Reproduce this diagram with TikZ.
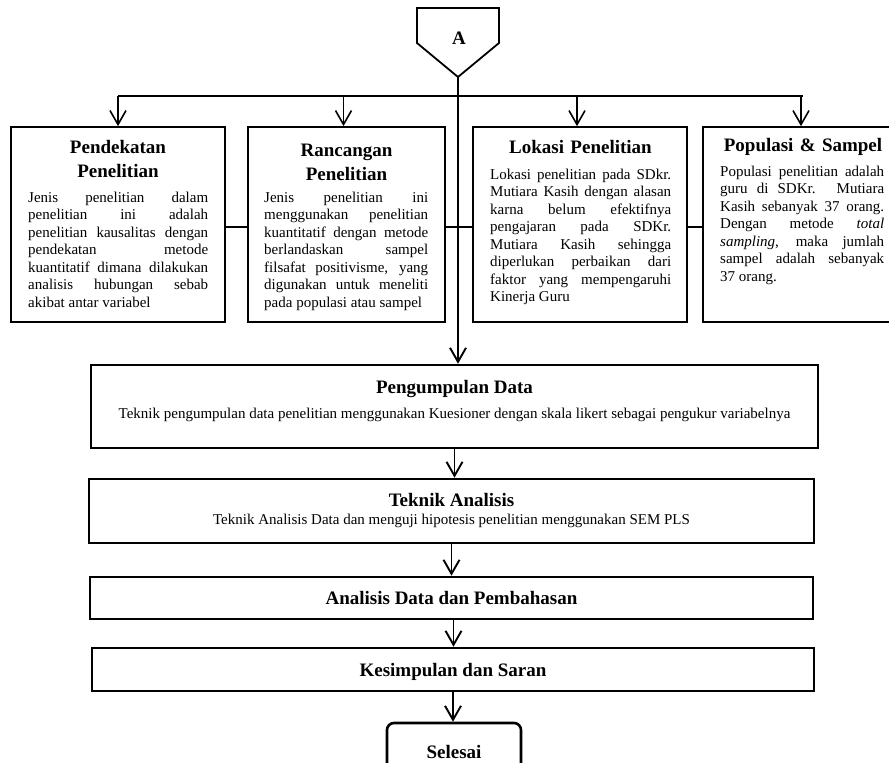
\documentclass[tikz,border=0pt]{standalone}
\usepackage{fontspec}
\setmainfont{Liberation Serif}
\usetikzlibrary{arrows.meta,calc}
\begin{document}
\begin{tikzpicture}[x=1pt,y=-1pt,
  bx/.style={draw, line width=1.7pt, fill=white, inner sep=0pt},
  bxb/.style={draw, line width=2.6pt, fill=white, inner sep=0pt},
  ttl/.style={inner sep=0pt, align=center, font=\fontsize{19}{24}\selectfont\bfseries},
  bod/.style={inner sep=0pt, align=justify, font=\fontsize{15}{17.5}\selectfont},
  lbl/.style={inner sep=0pt, font=\fontsize{15}{17.5}\selectfont},
  ln/.style={line width=1.6pt},
  arr/.style={line width=1.6pt, -{Straight Barb[length=14pt,width=16pt]}},
]
\useasboundingbox (0,0) rectangle (889,763);
\clip (0,0) rectangle (889,763);

% connector A
\draw[line width=1.8pt, fill=white, line join=miter] (417,8) -- (499,8) -- (499,43) -- (458,77) -- (417,43) -- cycle;
\draw[line width=2.8pt] (416,8) -- (500,8);
\node[ttl, anchor=base] (A) at (459,44) {A};
\coordinate (Atip) at (458,77);
\coordinate (hb) at (458,96);

% top boxes
\node[bx, minimum width=214pt, minimum height=195pt] (b1) at (118,224.5) {};
\node[bx, minimum width=197pt, minimum height=195pt] (b2) at (346.5,224.5) {};
\node[bx, minimum width=214pt, minimum height=195pt] (b3) at (580,224.5) {};
\node[bx, minimum width=200pt, minimum height=195pt] (b4) at (803,224.5) {};

% lower boxes
\node[bxb, minimum width=727pt, minimum height=83pt] (peng) at (454.5,406.5) {};
\node[bxb, minimum width=725pt, minimum height=64pt] (tek) at (451.5,511) {};
\node[bxb, minimum width=723pt, minimum height=42pt] (anl) at (451.5,598) {};
\node[bxb, minimum width=722pt, minimum height=43pt] (kes) at (453,669.5) {};
\node[bxb, rounded corners=7pt, minimum width=134pt, minimum height=58pt] (sel) at (454,752) {};

% connectors (behind text, over lines)
\begin{scope}[on background layer/.try]
\end{scope}
\draw[ln] (b1.east |- 0,227) -- (b2.west |- 0,227);
\draw[ln] (b2.east |- 0,227) -- (b3.west |- 0,227);
\draw[ln] (b3.east |- 0,227) -- (b4.west |- 0,227);
\draw[arr, line width=1.9pt] (Atip) -- (Atip |- peng.north);
\draw[ln] (b1.north |- hb) -- (b4.north |- hb);
\draw[arr] (b1.north |- hb) -- (b1.north);
\draw[arr] ($(b2.north |- hb)+(-3,0)$) -- ($(b2.north)+(-3,0)$);
\draw[arr] ($(b3.north |- hb)+(-3,0)$) -- ($(b3.north)+(-3,0)$);
\draw[arr] ($(b4.north |- hb)+(-2,0)$) -- ($(b4.north)+(-2,0)$);
\draw[arr, line width=1.9pt] (peng.south) -- (peng.south |- tek.north);
\draw[arr, line width=1.9pt] (tek.south) -- (tek.south |- anl.north);
\draw[arr, line width=1.9pt] ($(anl.south)+(2,0)$) -- ($(anl.south |- kes.north)+(2,0)$);
\draw[arr, line width=1.9pt] (kes.south) -- (kes.south |- sel.north);

% top box texts
\node[ttl, text width=200pt, anchor=north] (t1) at (118,136.2) {\strut Pendekatan\\ Penelitian};
\node[bod, text width=180pt, anchor=north west] (d1) at (28,189.75) {\strut Jenis penelitian dalam\linebreak penelitian ini adalah\linebreak penelitian kausalitas dengan\linebreak pendekatan metode\linebreak kuantitatif dimana dilakukan\linebreak analisis hubungan sebab\linebreak akibat antar variabel};

\node[ttl, text width=190pt, anchor=north] (t2) at (346.5,139.2) {\strut Rancangan\\ Penelitian};
\node[bod, text width=164pt, anchor=north west] (d2) at (264,189.75) {\strut Jenis penelitian ini\linebreak menggunakan penelitian\linebreak kuantitatif dengan metode\linebreak berlandaskan sampel\linebreak filsafat positivisme, yang\linebreak digunakan untuk meneliti\linebreak pada populasi atau sampel};

\node[ttl, text width=210pt, anchor=north] (t3) at (580.5,136.2) {\strut Lokasi Penelitian};
\node[bod, text width=181pt, anchor=north west] (d3) at (490,166.75) {\strut Lokasi penelitian pada SDkr.\linebreak Mutiara Kasih dengan alasan\linebreak karna belum efektifnya\linebreak pengajaran pada SDKr.\linebreak Mutiara Kasih sehingga\linebreak diperlukan perbaikan dari\linebreak faktor yang mempengaruhi\linebreak Kinerja Guru};

\node[ttl, text width=200pt, anchor=north] (t4) at (803,134.2) {\strut Populasi \& Sampel};
\node[bod, text width=164pt, anchor=north west] (d4) at (720,163.75) {\strut Populasi penelitian adalah\linebreak guru di SDKr. Mutiara\linebreak Kasih sebanyak 37 orang.\linebreak Dengan metode \textit{total}\linebreak \textit{sampling}, maka jumlah\linebreak sampel adalah sebanyak\linebreak 37 orang.};

% lower texts
\node[ttl, anchor=base] (pt) at (454.5,393) {Pengumpulan Data};
\node[lbl, anchor=base] (pb) at (454.5,418.5) {Teknik pengumpulan data penelitian menggunakan Kuesioner dengan skala likert sebagai pengukur variabelnya};
\node[ttl, anchor=base] (tt) at (451.5,506) {Teknik Analisis};
\node[lbl, anchor=base] (tb) at (451.5,524.5) {Teknik Analisis Data dan menguji hipotesis penelitian menggunakan SEM PLS};
\node[ttl, anchor=base] (at) at (451.5,604) {Analisis Data dan Pembahasan};
\node[ttl, anchor=base] (kt) at (453,676) {Kesimpulan dan Saran};
\node[ttl, anchor=base] (st) at (454,758.5) {Selesai};
\end{tikzpicture}
\end{document}
